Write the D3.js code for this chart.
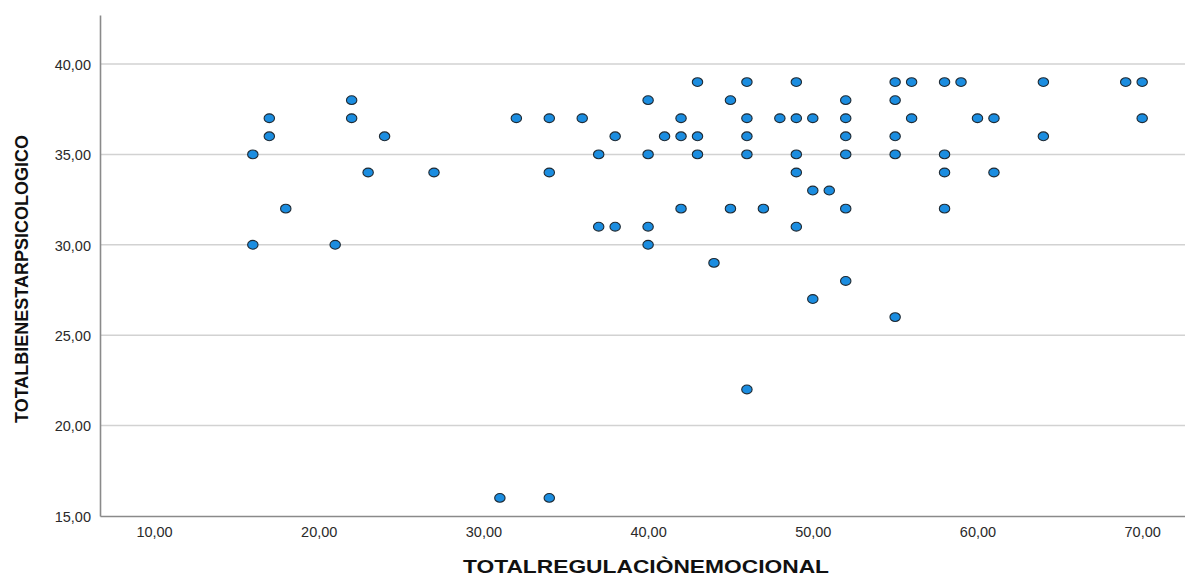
<!DOCTYPE html>
<html lang="es">
<head>
<meta charset="utf-8">
<title>Dispersión</title>
<script src="https://cdn.jsdelivr.net/npm/d3@7"></script>
<style>
  body { margin: 0; background: #fff; }
  svg text { font-family: "Liberation Sans", Arial, sans-serif; }
</style>
</head>
<body>
<script>
// TOTALREGULACIÒNEMOCIONAL (x) y TOTALBIENESTARPSICOLOGICO (y)
var regulacion = [16, 16, 17, 17, 18, 21, 22, 22, 23, 24, 27, 31, 32, 34, 34, 34, 36, 37, 37, 38,
  38, 40, 40, 40, 40, 41, 42, 42, 42, 43, 43, 43, 44, 45, 45, 46, 46, 46, 46, 46,
  47, 48, 49, 49, 49, 49, 49, 50, 50, 50, 51, 52, 52, 52, 52, 52, 52, 55, 55, 55,
  55, 55, 56, 56, 58, 58, 58, 58, 59, 60, 61, 61, 64, 64, 69, 70, 70];
var bienestar = [35, 30, 37, 36, 32, 30, 38, 37, 34, 36, 34, 16, 37, 37, 34, 16, 37, 35, 31, 31,
  36, 38, 35, 31, 30, 36, 37, 36, 32, 39, 36, 35, 29, 38, 32, 39, 37, 36, 35, 22,
  32, 37, 39, 37, 35, 34, 31, 37, 33, 27, 33, 38, 37, 36, 35, 32, 28, 39, 38, 36,
  35, 26, 39, 37, 39, 35, 34, 32, 39, 37, 37, 34, 39, 36, 39, 39, 37];
var xTicks = [10, 20, 30, 40, 50, 60, 70];
var yTicks = [15, 20, 25, 30, 35, 40];

var w = 1185;
var h = 577;

var points = regulacion.map(function (d, i) { return { x: d, y: bienestar[i] }; });

var x = d3.scaleLinear().domain([6.72, 72.6]).range([100, 1185]);
var y = d3.scaleLinear().domain([15, 42.71]).range([516, 15]);
var fmt = function (d) { return d3.format(".2f")(d).replace(".", ","); };

var svg = d3.select("body")
  .append("svg")
  .attr("width", w)
  .attr("height", h);

// horizontal grid lines
svg.append("g")
  .selectAll("line")
  .data(yTicks.slice(1))
  .enter()
  .append("line")
  .attr("x1", 100)
  .attr("x2", w)
  .attr("y1", function (d) { return y(d); })
  .attr("y2", function (d) { return y(d); })
  .attr("stroke", "#d2d2d2")
  .attr("stroke-width", 1.5);

// axes
var xAxis = svg.append("g")
  .attr("transform", "translate(0,516)")
  .call(d3.axisBottom(x).tickValues(xTicks).tickFormat(fmt).tickSize(0).tickPadding(11));
var yAxis = svg.append("g")
  .attr("transform", "translate(100,0)")
  .call(d3.axisLeft(y).tickValues(yTicks).tickFormat(fmt).tickSize(0).tickPadding(9));

[xAxis, yAxis].forEach(function (g) {
  g.select(".domain").attr("stroke", "#8a8a8a").attr("stroke-width", 1.6);
  g.selectAll("text")
    .attr("font-family", "'Liberation Sans', Arial, sans-serif")
    .attr("font-size", "14.5px")
    .attr("fill", "#2a2a2a");
});
yAxis.selectAll("text").attr("dy", "0.36em");

// points
svg.append("g")
  .selectAll("ellipse")
  .data(points)
  .enter()
  .append("ellipse")
  .attr("cx", function (d) { return x(d.x); })
  .attr("cy", function (d) { return y(d.y); })
  .attr("rx", 5.2)
  .attr("ry", 4.4)
  .attr("fill", "#1b8de0")
  .attr("stroke", "#1f2a33")
  .attr("stroke-width", 1.1);

// axis titles
svg.append("text")
  .text("TOTALREGULACIÒNEMOCIONAL")
  .attr("x", 646)
  .attr("y", 573)
  .attr("text-anchor", "middle")
  .attr("font-size", "19px")
  .attr("font-weight", "bold")
  .attr("fill", "#111")
  .attr("textLength", 366)
  .attr("lengthAdjust", "spacingAndGlyphs");

svg.append("text")
  .text("TOTALBIENESTARPSICOLOGICO")
  .attr("transform", "translate(28,279) rotate(-90)")
  .attr("text-anchor", "middle")
  .attr("font-size", "19px")
  .attr("font-weight", "bold")
  .attr("fill", "#111")
  .attr("textLength", 288)
  .attr("lengthAdjust", "spacingAndGlyphs");
</script>
</body>
</html>
